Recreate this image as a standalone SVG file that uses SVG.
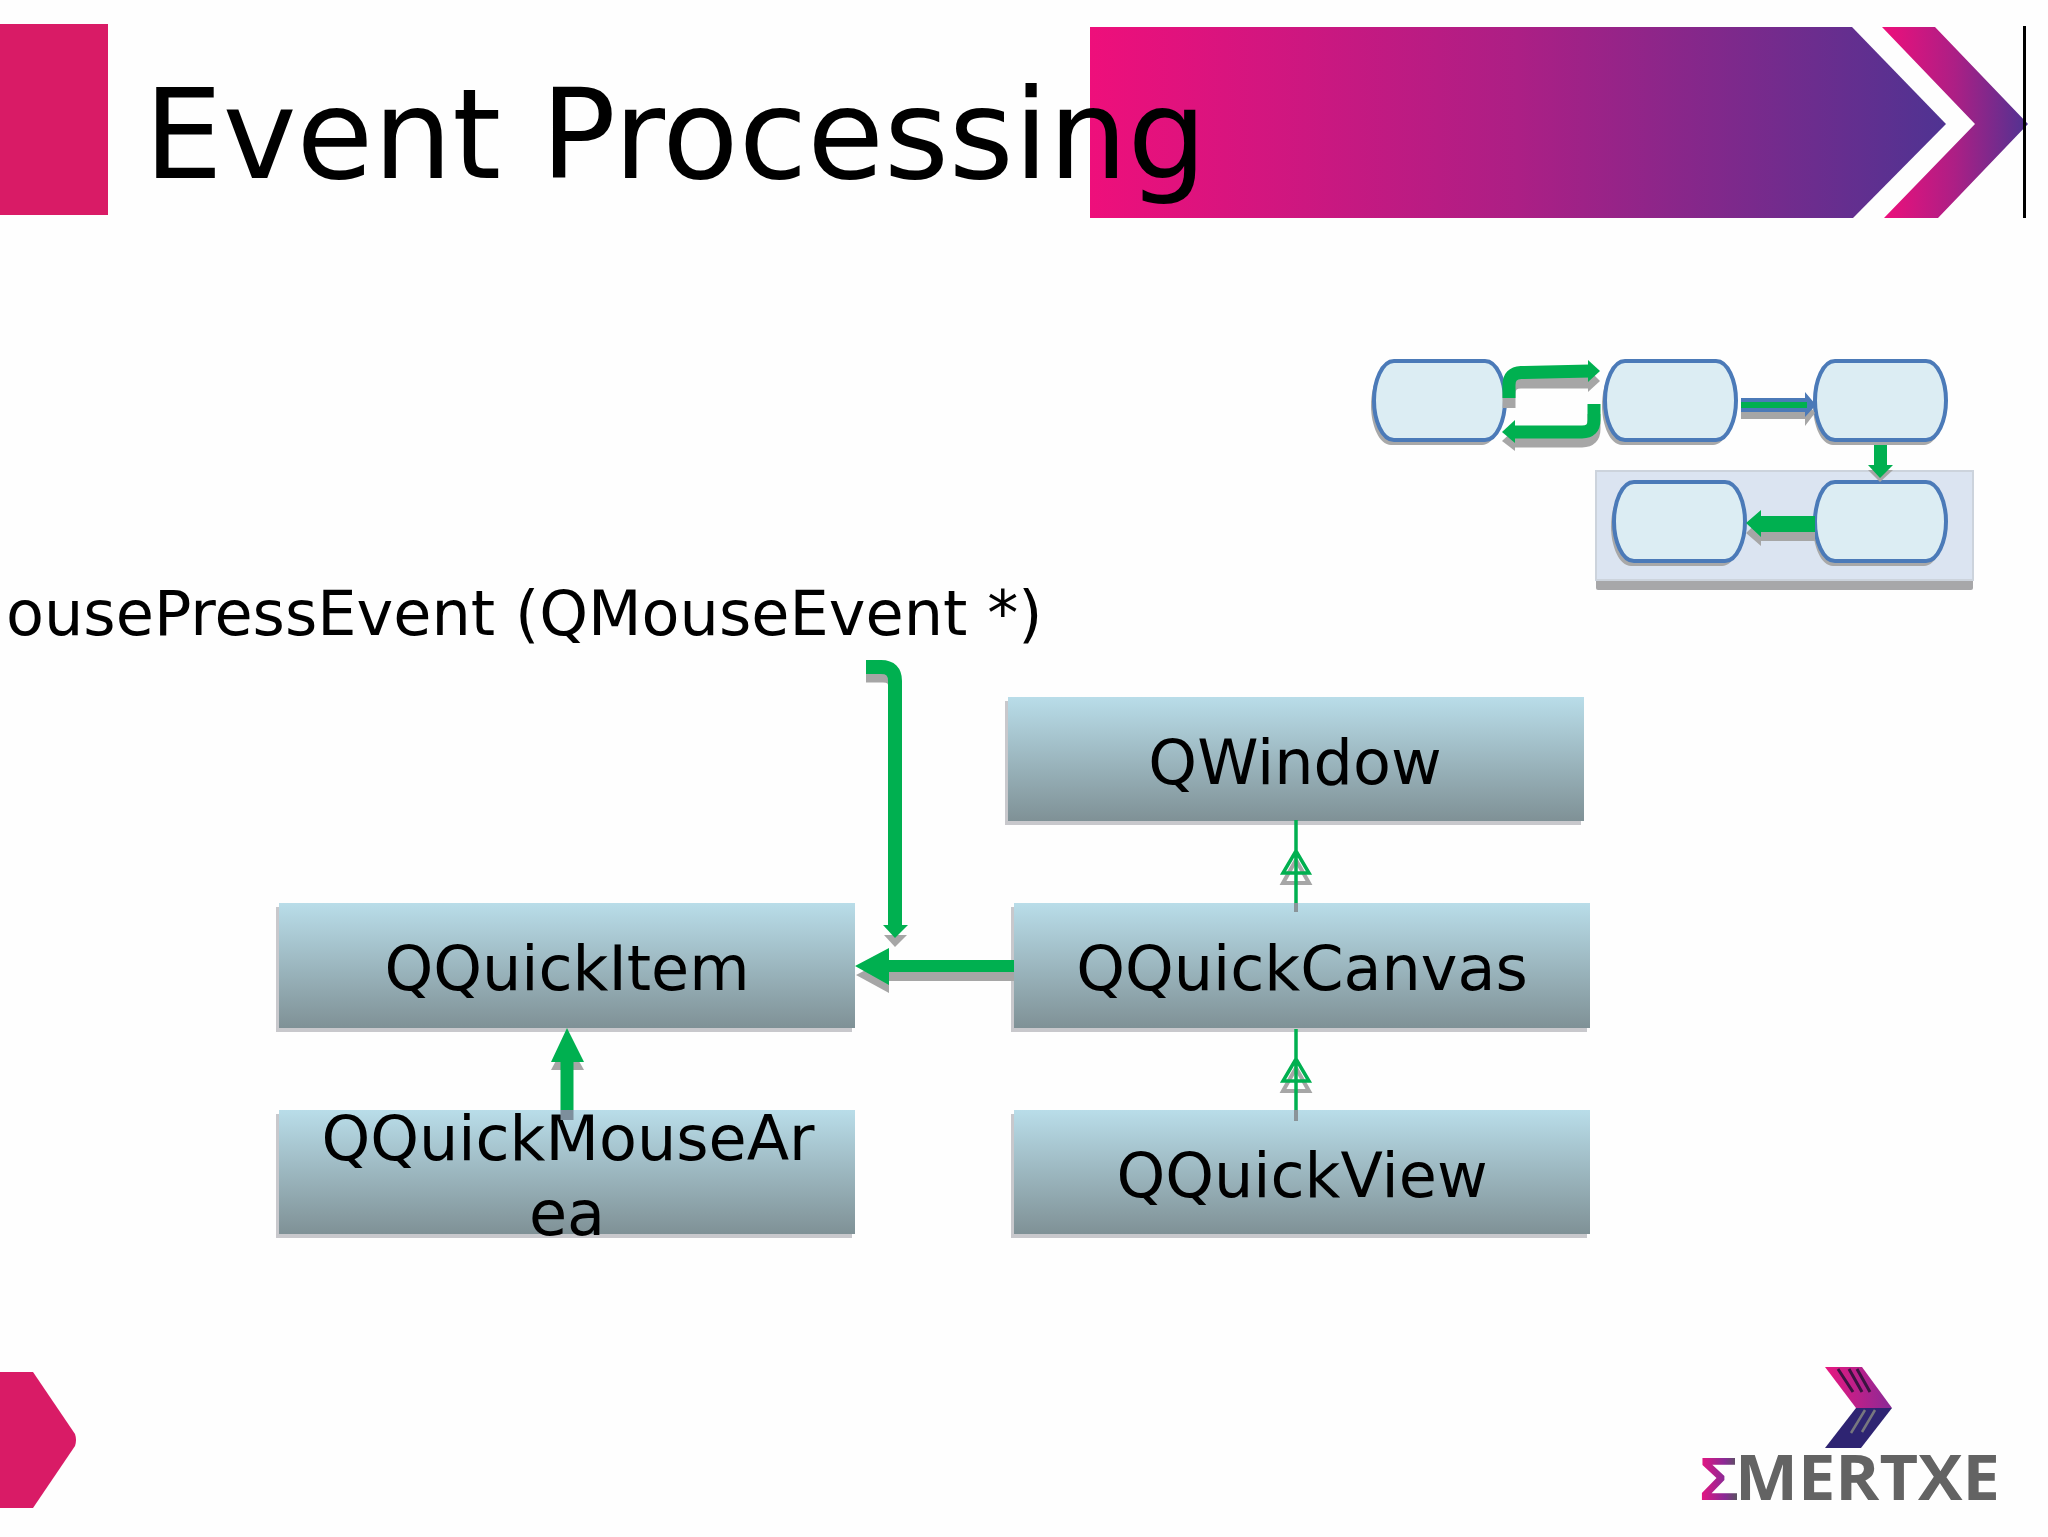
<svg xmlns="http://www.w3.org/2000/svg" width="2048" height="1537" viewBox="0 0 2048 1537">
<defs>
<linearGradient id="banner" x1="0" x2="1" y1="0" y2="0"><stop offset="0" stop-color="#ee0f7b"/><stop offset="0.5" stop-color="#ac1f85"/><stop offset="1" stop-color="#4f3392"/></linearGradient>
<linearGradient id="box" x1="0" x2="0" y1="0" y2="1"><stop offset="0" stop-color="#b9dde9"/><stop offset="1" stop-color="#7f9196"/></linearGradient>
<linearGradient id="logoTop" x1="0" x2="1" y1="0" y2="0"><stop offset="0" stop-color="#e8177f"/><stop offset="1" stop-color="#8a2a96"/></linearGradient>
<linearGradient id="sigma" gradientUnits="userSpaceOnUse" x1="1700" x2="1738" y1="0" y2="0"><stop offset="0" stop-color="#ea1480"/><stop offset="0.65" stop-color="#8a2a96"/><stop offset="1" stop-color="#55555a"/></linearGradient>
<g id="pill"><path d="M20,0H111C123,0 131,20 131,39.500C131,59 123,79 111,79H20C8,79 0,59 0,39.500C0,20 8,0 20,0Z"/></g>
</defs>
<style>
text{font-family:"DejaVu Sans","Liberation Sans",sans-serif;fill:#000}
.lbl{font-size:62px;text-anchor:middle}
.boxshadow{fill:#c8c8cc}
.box{fill:url(#box)}
.pillS{fill:#a8a8a8}
.pillF{fill:#dcedf3;stroke:#4b7ab8;stroke-width:4}
.g{fill:#00b050}
.s{fill:#a6a6a6}
.gl{fill:none;stroke:#00b050}
.sl{fill:none;stroke:#a6a6a6}
</style>
<rect width="2048" height="1537" fill="#fefefe"/>
<g id="header">
<rect x="0" y="24" width="108" height="191" fill="#d91b66"/>
<path d="M1090,27H1852L1946,124L1853,218H1090Z" fill="url(#banner)"/>
<path d="M1882,27H1935L2028,124L1938,218H1884L1975,124Z" fill="url(#banner)"/>
<rect x="2023" y="26" width="3" height="192" fill="#000"/>
<text id="title" x="144" y="178" font-size="124.700">Event Processing</text>
</g>
<path id="footer-mark" d="M0,1372H33L75,1434Q77,1440 75,1446L33,1508H0Z" fill="#d91b66"/>
<text id="caption" x="6" y="635" font-size="62.100">ousePressEvent (QMouseEvent *)</text>
<g id="mini-flow">
<rect x="1596" y="471" width="377" height="119" rx="2" fill="#a7a7a9"/>
<rect x="1596" y="471" width="377" height="109" fill="#dbe4f1" stroke="#ccd3dc" stroke-width="2"/>
<g id="mini-node-1"><use href="#pill" x="1371" y="366" class="pillS"/><use href="#pill" x="1374" y="361" class="pillF"/></g>
<g id="mini-node-2"><use href="#pill" x="1602" y="366" class="pillS"/><use href="#pill" x="1605" y="361" class="pillF"/></g>
<g id="mini-node-3"><use href="#pill" x="1813" y="366" class="pillS"/><use href="#pill" x="1815" y="361" class="pillF"/></g>
<g id="mini-node-4"><use href="#pill" x="1611" y="487" class="pillS"/><use href="#pill" x="1614" y="482" class="pillF"/></g>
<g id="mini-node-5"><use href="#pill" x="1813" y="487" class="pillS"/><use href="#pill" x="1815" y="482" class="pillF"/></g>
<g id="mini-connectors">
<path class="sl" stroke-width="13" d="M1509,408V394Q1509,382 1521,382H1590"/><path class="s" d="M1588,369L1600,381L1588,392Z"/>
<path class="gl" stroke-width="13" d="M1509,398V385Q1509,373 1521,372.500L1590,371"/><path class="g" d="M1588,360L1600,371L1588,382Z"/>
<path class="sl" stroke-width="13" d="M1594,414V429Q1594,441 1582,441H1512"/><path class="s" d="M1515,429L1502,441L1515,451Z"/>
<path class="gl" stroke-width="13" d="M1594,404V420Q1594,432 1582,432H1512"/><path class="g" d="M1515,420L1502,432L1515,443Z"/>
<path class="s" d="M1741,403H1805V400L1815,413L1805,426V419H1741Z"/>
<path d="M1741,398H1805V392L1816,405L1805,417V412H1741Z" fill="#4b7ab8"/>
<rect x="1741" y="402" width="66" height="6" class="g"/>
<path class="s" d="M1868,470H1893L1880,482Z"/>
<path class="g" d="M1874,445H1887V465H1893L1880,478L1868,465H1874Z"/>
<path class="s" d="M1815,525H1761V519L1746,533L1761,546V541H1815Z"/>
<path class="g" d="M1815,516H1761V510L1746,523L1761,537V532H1815Z"/>
</g>
</g>
<g id="node-qwindow"><rect x="1005" y="701" width="576" height="124" class="boxshadow"/><rect x="1008" y="697" width="576" height="124" class="box"/><text class="lbl" x="1295" y="784">QWindow</text></g>
<g id="node-qquickitem"><rect x="276" y="907" width="576" height="125" class="boxshadow"/><rect x="279" y="903" width="576" height="125" class="box"/><text class="lbl" x="567" y="990">QQuickItem</text></g>
<g id="node-qquickcanvas"><rect x="1011" y="907" width="576" height="125" class="boxshadow"/><rect x="1014" y="903" width="576" height="125" class="box"/><text class="lbl" x="1302" y="990">QQuickCanvas</text></g>
<g id="node-qquickmousearea"><rect x="276" y="1114" width="576" height="124" class="boxshadow"/><rect x="279" y="1110" width="576" height="124" class="box"/><text class="lbl" x="568" y="1160">QQuickMouseAr</text><text class="lbl" x="567" y="1235">ea</text></g>
<g id="node-qquickview"><rect x="1011" y="1114" width="576" height="124" class="boxshadow"/><rect x="1014" y="1110" width="576" height="124" class="box"/><text class="lbl" x="1302" y="1197">QQuickView</text></g>
<g id="connectors">
<path class="sl" stroke-width="13" d="M866,676H883Q895,676 895,688V900"/>
<path class="s" d="M884,935H907L895,947Z"/>
<path class="gl" stroke-width="14" d="M866,667H881Q895,667 895,681V926"/>
<path class="g" d="M883,925H908L895,938Z"/>
<path class="s" d="M1014,969V981H889V993L856,975L889,958V969Z"/>
<path class="g" d="M1014,960V972H889V985L855,966L889,948V960Z"/>
<rect x="1294" y="903" width="4" height="9" fill="#8a9499"/>
<path class="sl" stroke-width="4" d="M1296,860L1283,883H1309Z"/>
<path class="gl" stroke-width="3.500" d="M1296,820V903M1296,851L1283,873H1309Z"/>
<rect x="1294" y="1110" width="4" height="11" fill="#8a9499"/>
<path class="sl" stroke-width="4" d="M1296,1068L1283,1091H1309Z"/>
<path class="gl" stroke-width="3.500" d="M1296,1029V1110M1296,1059L1283,1081H1309Z"/>
<path class="s" d="M551,1070L567,1040L584,1070Z"/>
<rect x="560.500" y="1110" width="13" height="10" fill="#7d8f9c"/>
<path class="g" d="M560.500,1110V1062H551L567,1028L584,1062H573.500V1110Z"/>
</g>
<g id="logo">
<path d="M1825,1367H1862L1892,1408H1856Z" fill="url(#logoTop)"/>
<path d="M1856,1408H1892L1861,1448H1825Z" fill="#2e2472"/>
<path d="M1838,1369L1853,1392M1849,1369L1862,1392M1857,1369L1870,1392" stroke="#3a1440" stroke-width="3" fill="none"/>
<path d="M1875,1410L1862,1432M1865,1410L1851,1433" stroke="#77777f" stroke-width="2.500" fill="none"/>
<text x="1699" y="1500" font-size="62" font-weight="700" textLength="40" lengthAdjust="spacingAndGlyphs" style="font-family:'Liberation Sans',sans-serif;fill:url(#sigma)">Σ</text>
<text x="1735" y="1500" font-size="63" font-weight="700" textLength="265" lengthAdjust="spacingAndGlyphs" style="font-family:'Open Sans',sans-serif;fill:#636363">MERTXE</text>
</g>
</svg>
